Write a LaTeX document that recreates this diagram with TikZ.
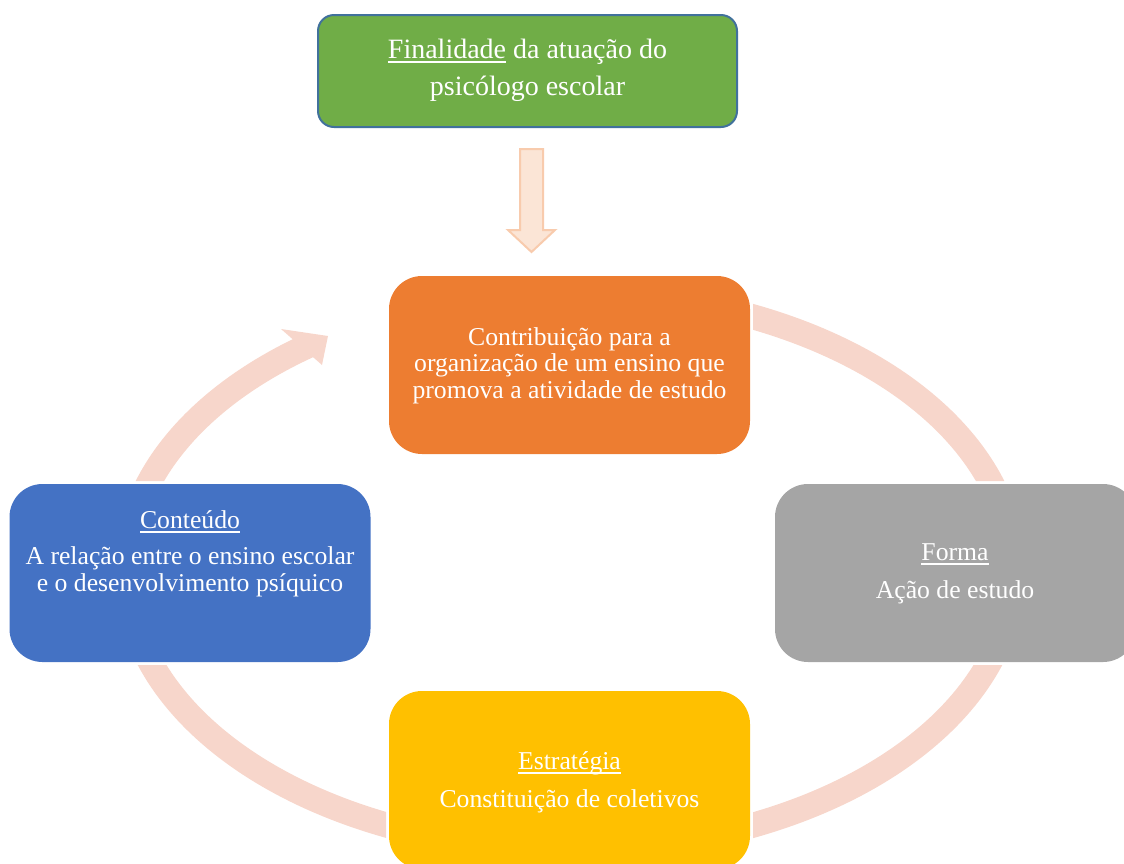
\documentclass[tikz,border=0pt]{standalone}
\usepackage{fontspec}
\setmainfont{Liberation Serif}
\definecolor{cgreen}{HTML}{70AD47}
\definecolor{cborder}{HTML}{41719C}
\definecolor{corange}{HTML}{ED7D31}
\definecolor{cblue}{HTML}{4472C4}
\definecolor{cgrey}{HTML}{A5A5A5}
\definecolor{cyellow}{HTML}{FFC000}
\definecolor{cring}{HTML}{F7D6CB}
\definecolor{carrowfill}{HTML}{FBE5D6}
\definecolor{carrowline}{HTML}{F8CBAD}
\newcommand\myul[1]{\leavevmode\setbox0=\hbox{#1}\rlap{\copy0}\rule[-4.5pt]{\wd0}{1.6pt}}
\begin{document}
\begin{tikzpicture}[x=1pt,y=-1pt,
  box/.style={rectangle, rounded corners=33pt, minimum width=361pt, minimum height=178pt, inner sep=0pt},
  txt/.style={text=white, align=center, anchor=base, inner sep=0pt, font=\fontsize{25.7}{26.5}\selectfont},
  ring/.style={draw=cring, line width=25pt},
  ringhead/.style={fill=cring},
  blockarrow/.style={fill=carrowfill, draw=carrowline, line width=2pt, line join=miter}]
\useasboundingbox (0,0) rectangle (1124,863);
% cycle ring
\begin{scope}[even odd rule]
\clip (-10,-10) rectangle (1140,880)
  (386,273) rectangle (753,457)
  (7,481) rectangle (373,665)
  (772,481) rectangle (1139,665)
  (386,688) rectangle (753,872);
\draw[ring] plot[domain=250:594, samples=300] ({570+444*cos(\x)},{571+279*sin(\x)});
\end{scope}
\fill[ringhead] (281,329) -- (328,336) -- (322,365) -- cycle;
% boxes
\node[box, fill=corange] (orange) at (569.5,365) {};
\node[box, fill=cblue] (blue) at (190,573) {};
\node[box, fill=cgrey] (grey) at (955.5,573) {};
\node[box, fill=cyellow] (yellow) at (569.5,780) {};
\node[box, fill=cgreen, draw=cborder, line width=2pt, rounded corners=16pt, minimum width=419pt, minimum height=112pt] (top) at (527.5,71) {};
% block arrow
\draw[blockarrow] (520,149) -- (543,149) -- (543,230) -- (555,230) -- (531.5,252) -- (508,230) -- (520,230) -- cycle;
% texts (anchor = baseline of last line)
\node[txt, font=\fontsize{28}{37}\selectfont] (toptext) at (527.5,95) {\myul{Finalidade} da atuação do\\psicólogo escolar};
\node[txt] (orangetext) at (569.5,398) {Contribuição para a\\organização de um ensino que\\promova a atividade de estudo};
\node[txt] (bluetext) at (190,591) {\myul{Conteúdo}\\[9.5pt]A relação entre o ensino escolar\\e o desenvolvimento psíquico};
\node[txt] (greytext) at (955,598) {\myul{Forma}\\[11.5pt]Ação de estudo};
\node[txt] (yellowtext) at (569.5,807) {\myul{Estratégia}\\[11.5pt]Constituição de coletivos};
\end{tikzpicture}
\end{document}
